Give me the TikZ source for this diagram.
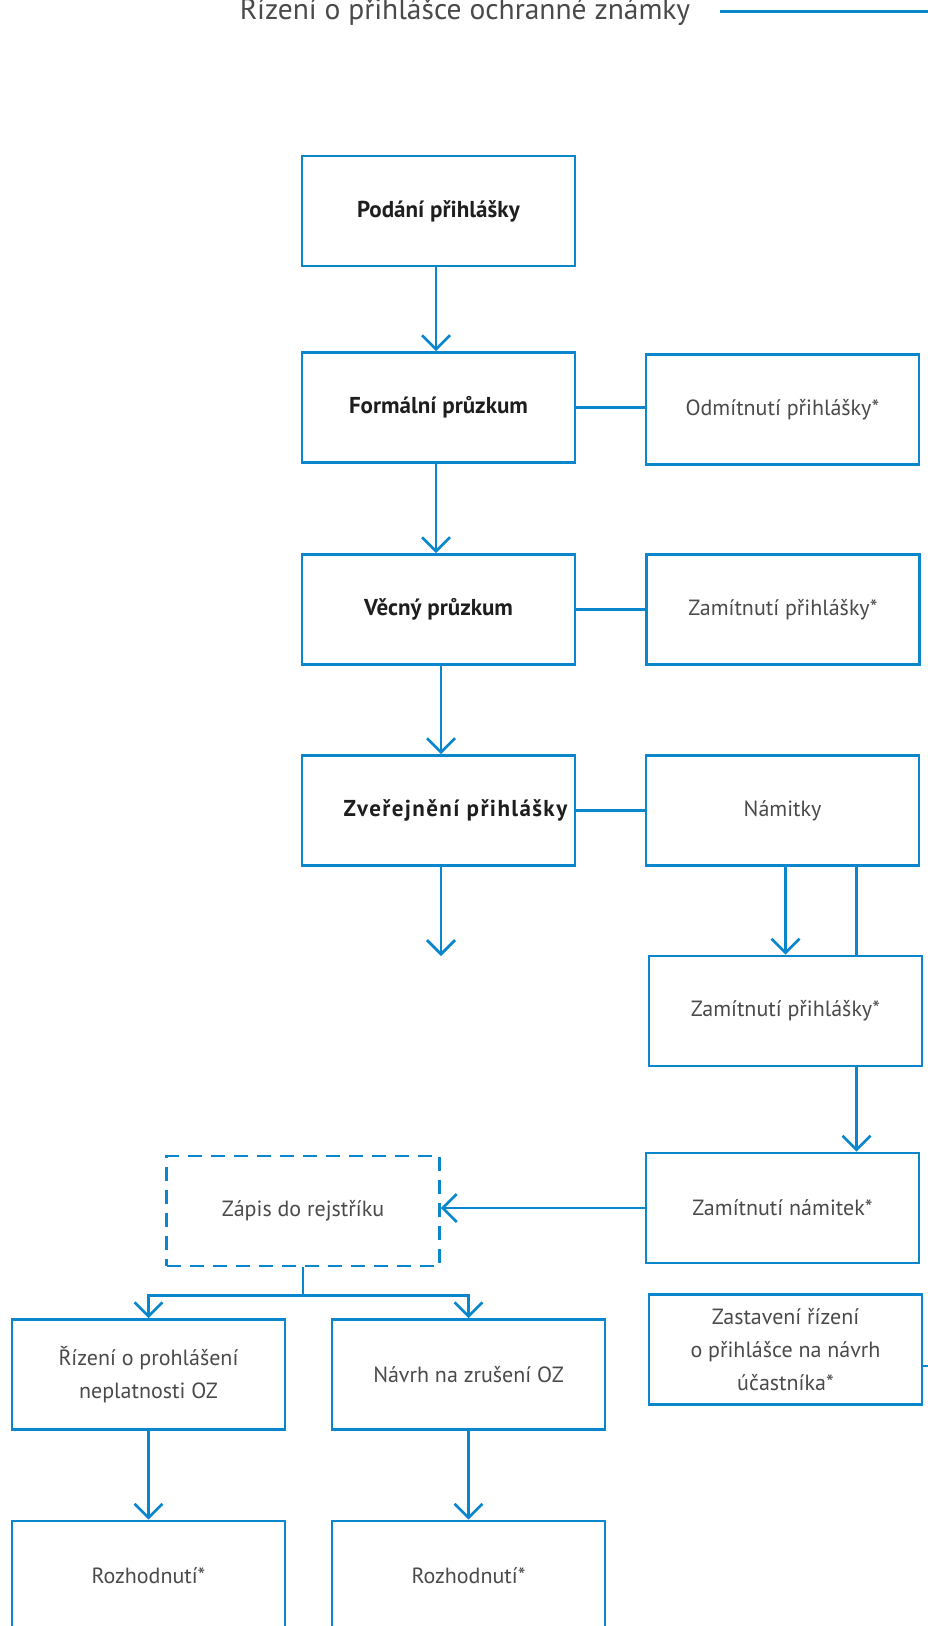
\documentclass[tikz,border=0pt]{standalone}
\usepackage{fontspec}
\setmainfont{PT Sans}
\usetikzlibrary{arrows.meta}
\definecolor{flowblue}{HTML}{0A86CD}
\definecolor{txtgray}{HTML}{4A4A4A}
\definecolor{txtdark}{HTML}{1E1E1E}

\begin{document}
\begin{tikzpicture}[x=1pt,y=-1pt,
  box/.style={draw=flowblue, line width=2.7pt, minimum width=273pt, minimum height=110pt,
    inner sep=0pt, align=center, text=txtgray, font=\fontsize{22}{33}\selectfont},
  boldbox/.style={box, text=txtdark, font=\fontsize{23}{30}\selectfont\bfseries},
  dashbox/.style={box, dash pattern=on 14pt off 9pt},
  link/.style={draw=flowblue, line width=2.7pt},
  arrow/.style={link, -{Straight Barb[length=14pt,width=28pt]}}
]
\useasboundingbox (0,0) rectangle (928,1626);

% heading with its rule
\node[anchor=base, font=\fontsize{29.5}{30}\selectfont, text=txtgray] (title) at (465,19)
  {Řízení o přihlášce ochranné známky};
\coordinate (rulestart) at (720,11.7);
\coordinate (ruleend) at (940,11.7);
\draw[link] (rulestart) -- (ruleend);

% main column
\node[boldbox] (pod)  at (438.5,211)   {Podání přihlášky};
\node[boldbox] (form) at (438.5,407.5) {Formální průzkum};
\node[boldbox] (vec)  at (438.5,609.5) {Věcný průzkum};
\node[boldbox] (zver) at (438.5,810.5)
  {\hspace*{34pt}\addfontfeature{LetterSpace=6}Zveřejnění přihlášky};
\coordinate (zverout) at (441,956);

% right column
\node[box] (odm)    at (782.5,409.5) {Odmítnutí přihlášky*};
\node[box] (zam1)   at (783,609.5)   {Zamítnutí přihlášky*};
\node[box] (nam)    at (782.5,810.5) {Námitky};
\node[box] (zam2)   at (785.5,1011)  {Zamítnutí přihlášky*};
\node[box] (zamnam) at (782.5,1208)  {Zamítnutí námitek*};
\node[box] (zast)   at (785.5,1349.5) {Zastavení řízení\\o přihlášce na návrh\\účastníka*};
\coordinate (zastout) at (940,1366);

% registration and what follows it
\node[dashbox] (zapis) at (303,1211) {Zápis do rejstříku};
\node[box] (riz)   at (148.5,1374.5) {Řízení o prohlášení\\neplatnosti OZ};
\node[box] (navrh) at (468.5,1374.5) {Návrh na zrušení OZ};
\node[box] (roz1)  at (148.5,1576) {Rozhodnutí*};
\node[box] (roz2)  at (468.5,1576) {Rozhodnutí*};

% connectors of the main column
\draw[arrow] ([xshift=-2.5pt]pod.south)  -- ([xshift=-2.5pt]form.north);
\draw[arrow] ([xshift=-2.5pt]form.south) -- ([xshift=-2.5pt]vec.north);
\draw[arrow] ([xshift=2.5pt]vec.south)   -- ([xshift=2.5pt]zver.north);
\draw[arrow] ([xshift=2.5pt]zver.south)  -- (zverout);

% side branches
\draw[link] (form.east) -- (form.east -| odm.west);
\draw[link] (vec.east)  -- (vec.east -| zam1.west);
\draw[link] (zver.east) -- (zver.east -| nam.west);

% objections
\draw[arrow] (nam.south -| zam2.north) -- (zam2.north);
\draw[link]  ([xshift=74pt]nam.south) -- ([xshift=71pt]zam2.north);
\draw[arrow] ([xshift=71pt]zam2.south) -- ([xshift=74pt]zamnam.north);
\draw[arrow] (zamnam.west) -- (zamnam.west -| zapis.east);
\draw[link]  (zast.east |- zastout) -- (zastout);

% after registration
\draw[link] (zapis.south) -- ++(0,28) coordinate (fork);
\draw[arrow] (fork) -| (riz.north);
\draw[arrow] (fork) -| (navrh.north);
\draw[arrow] (riz.south) -- (roz1.north);
\draw[arrow] (navrh.south) -- (roz2.north);
\end{tikzpicture}
\end{document}
